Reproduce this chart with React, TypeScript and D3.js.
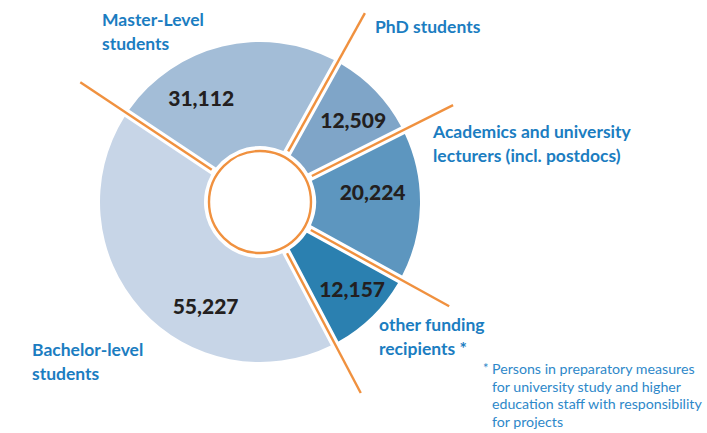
import React, { useEffect, useRef } from 'react';
import * as d3 from 'd3';

// categories, in drawing order (clockwise from the Master segment)
const categories = ['Master', 'PhD', 'Academics', 'Other', 'Bachelor'];
const values = [31112, 12509, 20224, 12157, 55227];
const fills = ['#a3bdd7', '#7fa5c8', '#5d96bf', '#2b80b0', '#c7d5e7'];

const categoryLabels: string[][] = [
  ['Master-Level', 'students'],
  ['PhD students'],
  ['Academics and university', 'lecturers (incl. postdocs)'],
  ['other funding', 'recipients *'],
  ['Bachelor-level', 'students'],
];

const footnoteLines = [
  'Persons in preparatory measures',
  'for university study and higher',
  'education staff with responsibility',
  'for projects',
];

const W = 707;
const H = 433;
const ORANGE = '#f0913f';
const BLUE = '#1b7dc1';

const App: React.FC = () => {
  const svgRef = useRef<SVGSVGElement>(null);

  useEffect(() => {
    if (!svgRef.current) return;
    const root = d3.select(svgRef.current);
    root.selectAll('*').remove();

    const cx = 260;
    const cy = 202;
    const innerR = 56;
    const outerR = 160;
    const start = (-56.3 * Math.PI) / 180;

    const pie = d3.pie<number>()
      .sort(null)
      .startAngle(start)
      .endAngle(start + Math.PI * 2);
    const arcs = pie(values);

    const arc = d3.arc<d3.PieArcDatum<number>>()
      .innerRadius(innerR)
      .outerRadius(outerR)
      .padRadius(100)
      .padAngle(0.085);

    const g = root.append('g').attr('transform', `translate(${cx},${cy})`);

    // Segments
    g.selectAll('path.seg')
      .data(arcs)
      .enter()
      .append('path')
      .attr('class', 'seg')
      .attr('d', arc)
      .attr('fill', (_, i) => fills[i]);

    // Orange separator lines on every slice boundary
    g.selectAll('line.sep')
      .data(arcs)
      .enter()
      .append('line')
      .attr('class', 'sep')
      .attr('x1', d => 58 * Math.sin(d.startAngle))
      .attr('y1', d => -58 * Math.cos(d.startAngle))
      .attr('x2', d => 216 * Math.sin(d.startAngle))
      .attr('y2', d => -216 * Math.cos(d.startAngle))
      .attr('stroke', ORANGE)
      .attr('stroke-width', 2.4);

    // Center hole
    g.append('circle')
      .attr('r', 51)
      .attr('fill', '#fff')
      .attr('stroke', ORANGE)
      .attr('stroke-width', 2.4);

    // Value labels, nudged from the centroid like the original layout
    const nudgeDeg = [-16, 2.5, -6, -2, -20.5];
    const labelR = [119, 124, 113, 127, 118];
    const fmt = d3.format(',');
    g.selectAll('text.val')
      .data(arcs)
      .enter()
      .append('text')
      .attr('class', 'val')
      .attr('x', (d, i) => {
        const a = (d.startAngle + d.endAngle) / 2 + (nudgeDeg[i] * Math.PI) / 180;
        return labelR[i] * Math.sin(a);
      })
      .attr('y', (d, i) => {
        const a = (d.startAngle + d.endAngle) / 2 + (nudgeDeg[i] * Math.PI) / 180;
        return -labelR[i] * Math.cos(a);
      })
      .attr('dy', '0.36em')
      .attr('text-anchor', 'middle')
      .attr('font-family', 'Lato, "Open Sans", sans-serif')
      .attr('font-weight', 900)
      .attr('font-size', 21)
      .attr('fill', '#231f20')
      .text(d => fmt(d.data));

    // Category labels
    const labelPos = [
      [102, 26],
      [375, 33],
      [433, 138],
      [379, 331],
      [32, 356],
    ];
    categories.forEach((_, i) => {
      const t = root.append('text')
        .attr('x', labelPos[i][0])
        .attr('y', labelPos[i][1])
        .attr('font-family', 'Lato, "Open Sans", sans-serif')
        .attr('font-weight', 700)
        .attr('font-size', 17.5)
        .attr('fill', BLUE);
      categoryLabels[i].forEach((line, j) => {
        t.append('tspan')
          .attr('x', labelPos[i][0])
          .attr('dy', j === 0 ? 0 : 23.5)
          .text(line);
      });
    });

    // Footnote
    root.append('text')
      .attr('x', 483)
      .attr('y', 373)
      .attr('font-family', 'Lato, "Open Sans", sans-serif')
      .attr('font-size', 13)
      .attr('fill', '#2e88c9')
      .text('*');
    const fn = root.append('text')
      .attr('font-family', 'Lato, "Open Sans", sans-serif')
      .attr('font-size', 14.2)
      .attr('fill', '#2e88c9');
    footnoteLines.forEach((line, j) => {
      fn.append('tspan')
        .attr('x', 492)
        .attr('y', 374 + j * 17.6)
        .text(line);
    });
  }, []);

  return (
    <svg
      ref={svgRef}
      width={W}
      height={H}
      style={{ position: 'absolute', left: 0, top: 0, background: '#fff' }}
    />
  );
};

export default App;
